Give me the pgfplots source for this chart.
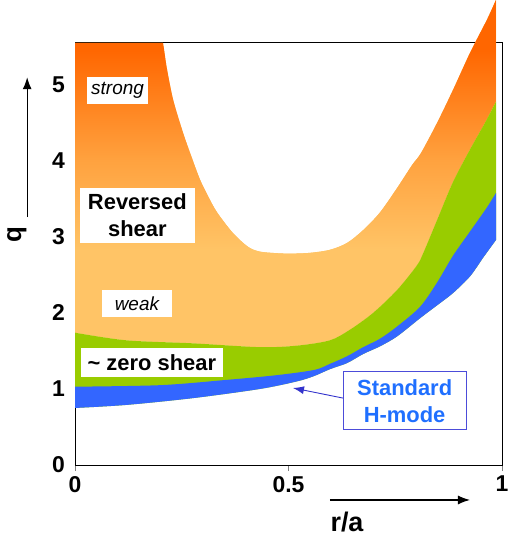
\documentclass[border=0pt]{standalone}
\usepackage{fontspec}
\setmainfont{Liberation Sans}
\usepackage{pgfplots}
\pgfplotsset{compat=1.18}
\usepgfplotslibrary{fillbetween}
\usetikzlibrary{arrows.meta}
\pgfplotsset{/tikz/fill between/on layer=main}
\definecolor{darkor}{HTML}{FF6600}
\definecolor{midor}{HTML}{FFA23F}
\definecolor{lightor}{HTML}{FFC466}
\definecolor{qgreen}{HTML}{99CC00}
\definecolor{qblue}{HTML}{3366FF}
\definecolor{hblue}{HTML}{1F6FFF}
\definecolor{hborder}{HTML}{4C4CD9}
\definecolor{harrow}{HTML}{3333CC}
\pgfdeclareverticalshading{orangeq}{100bp}{color(0bp)=(lightor); color(38bp)=(lightor); color(50bp)=(midor); color(65bp)=(darkor); color(100bp)=(darkor)}
\begin{document}
\begin{tikzpicture}
\begin{axis}[
  at={(0,0)}, anchor=south west,
  scale only axis, width=427bp, height=422bp,
  xmin=0, xmax=1, ymin=0, ymax=5.55,
  clip=false,
  xtick={0,0.5,1}, xticklabels={0,0.5,1},
  ytick={0,1,2,3,4,5},
  xtick pos=bottom, ytick pos=left,
  tick align=outside, major tick length=6bp,
  ytick style={draw=none},
  axis line style={line width=1bp},
  /pgf/number format/assume math mode=true,
  xticklabel style={font=\bfseries\fontsize{23}{23}\selectfont, inner sep=0pt, anchor=north, yshift=-5bp},
  yticklabel style={font=\bfseries\fontsize{23}{23}\selectfont, inner sep=0pt, anchor=east, xshift=-4bp},
]
% boundaries
\addplot[draw=none, smooth, tension=0.5, name path=otop] coordinates {
 (0,6.4) (0.16,6.4) (0.19,6.0) (0.206,5.55) (0.215,5.22) (0.23,4.8) (0.253,4.37) (0.273,4.05)
 (0.293,3.75) (0.313,3.52) (0.333,3.32) (0.37,3.05) (0.405,2.87) (0.43,2.81) (0.46,2.79)
 (0.5,2.78) (0.55,2.79) (0.597,2.83) (0.637,2.92) (0.675,3.09) (0.714,3.32) (0.754,3.64)
 (0.79,3.95) (0.81,4.1) (0.848,4.5) (0.885,4.93) (0.925,5.42) (0.965,5.86) (0.986,6.12)};
\addplot[draw=none, smooth, tension=0.5, name path=gtop] coordinates {
 (0,1.74) (0.12,1.64) (0.277,1.60) (0.433,1.55) (0.52,1.57) (0.597,1.64) (0.644,1.78)
 (0.698,2.0) (0.754,2.3) (0.80,2.62) (0.815,2.78) (0.85,3.25) (0.885,3.72) (0.925,4.15)
 (0.96,4.5) (0.986,4.78)};
\addplot[draw=none, smooth, tension=0.5, name path=btop] coordinates {
 (0,1.03) (0.2,1.05) (0.356,1.12) (0.47,1.18) (0.56,1.25) (0.597,1.33) (0.637,1.43)
 (0.675,1.55) (0.714,1.66) (0.754,1.82) (0.808,2.08) (0.848,2.4) (0.885,2.75) (0.925,3.07)
 (0.965,3.39) (0.986,3.58)};
\addplot[draw=none, smooth, tension=0.5, name path=bbot] coordinates {
 (0,0.75) (0.12,0.79) (0.277,0.88) (0.433,1.0) (0.52,1.1) (0.56,1.17) (0.597,1.26)
 (0.637,1.34) (0.675,1.46) (0.714,1.56) (0.754,1.69) (0.808,1.93) (0.848,2.10) (0.885,2.26)
 (0.925,2.48) (0.955,2.72) (0.986,2.96)};
% orange region, cut by the top of the axis on the left only
\begin{scope}
\clip (axis cs:0,0) -- (axis cs:0,5.55) -- (axis cs:0.6,5.55) -- (axis cs:0.6,6.5)
  -- (axis cs:1.05,6.5) -- (axis cs:1.05,0) -- cycle;
\addplot[draw=none, fill=lightor, shade, shading=orangeq] fill between[of=otop and gtop];
\end{scope}
\addplot[draw=none, fill=qgreen] fill between[of=gtop and bbot];
\addplot[draw=none, fill=qblue] fill between[of=btop and bbot];
% text boxes
\node[fill=white, inner sep=0pt, minimum width=61bp, minimum height=27bp,
  font=\itshape\fontsize{19}{19}\selectfont] at (axis cs:0.0996,4.93) {strong};
\node[fill=white, inner sep=0pt, minimum width=115bp, minimum height=55bp, align=center,
  font=\bfseries\fontsize{22}{27}\selectfont] at (axis cs:0.146,3.28) {Reversed\\shear};
\node[fill=white, inner sep=0pt, minimum width=70bp, minimum height=27bp,
  font=\itshape\fontsize{19}{19}\selectfont] at (axis cs:0.145,2.125) {weak};
\node[fill=white, inner sep=0pt, minimum width=142bp, minimum height=29bp,
  font=\bfseries\fontsize{22}{22}\selectfont] at (axis cs:0.180,1.349) {\textasciitilde\ zero shear};
\draw[harrow, line width=0.9bp, -{Latex[length=11bp,width=8bp]}]
  (axis cs:0.6276,0.88) -- (axis cs:0.5105,1.013);
\node[fill=white, draw=hborder, line width=1bp, inner sep=0pt, minimum width=123bp,
  minimum height=58bp, align=center, text=hblue,
  font=\bfseries\fontsize{22}{27}\selectfont] at (axis cs:0.772,0.842) {Standard\\H-mode};
% axis titles with arrows
\draw[line width=1.2bp, -{Latex[length=12bp,width=9bp]}]
  (axis cs:-0.112,3.26) -- (axis cs:-0.112,5.1);
\node[rotate=90, font=\bfseries\fontsize{26}{26}\selectfont] at (axis cs:-0.136,3.03) {q};
\draw[line width=1.2bp, -{Latex[length=12bp,width=9bp]}]
  (axis cs:0.597,-0.46) -- (axis cs:0.925,-0.46);
\node[anchor=base, font=\bfseries\fontsize{27}{27}\selectfont] at (axis cs:0.637,-0.868) {r/a};
\end{axis}
\pgfresetboundingbox
\path[use as bounding box] (-75bp,-71bp) rectangle (434bp,465bp);
\end{tikzpicture}
\end{document}
